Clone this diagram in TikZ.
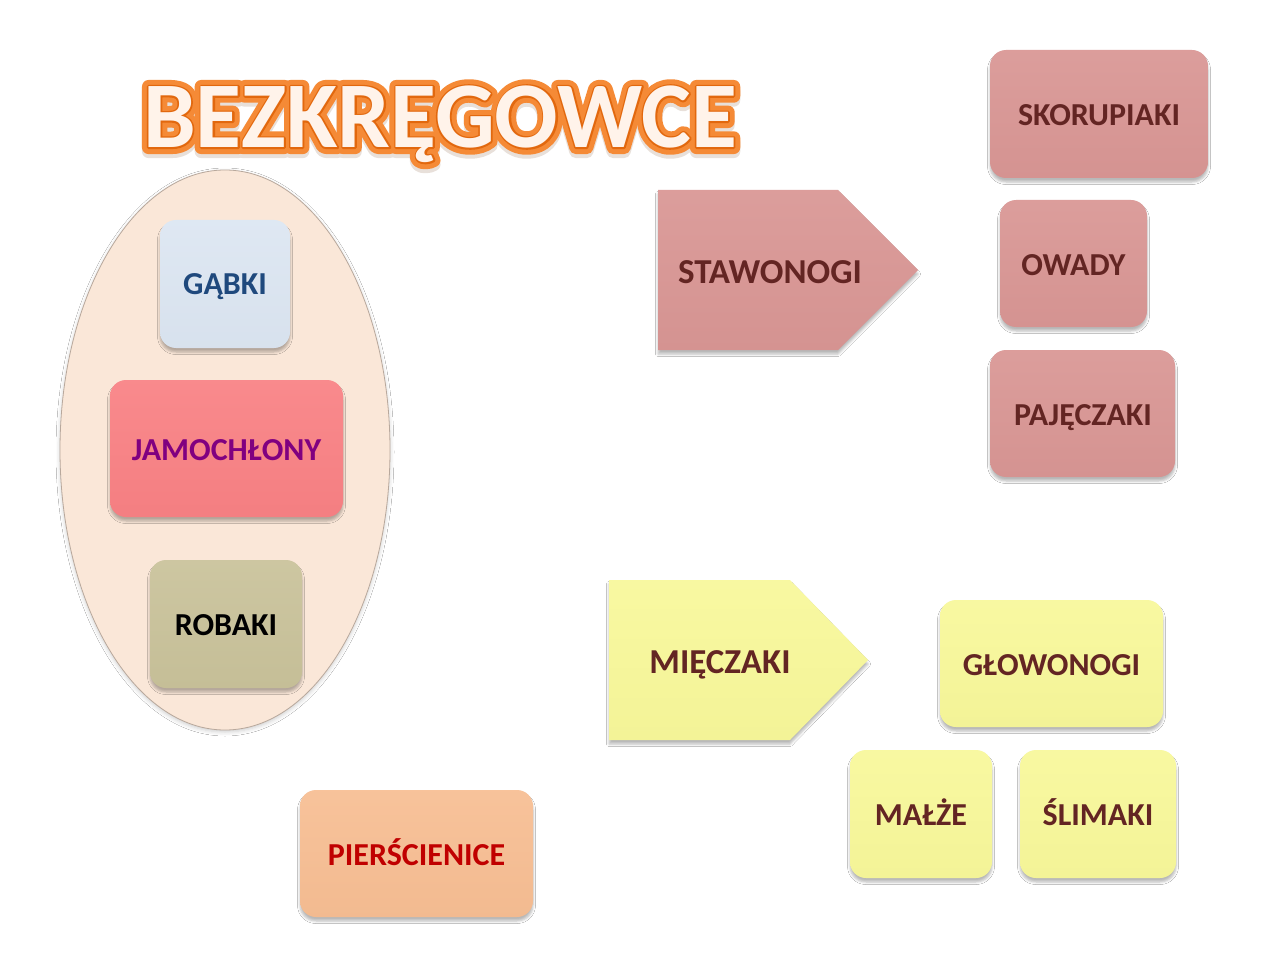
\documentclass[tikz,border=0pt]{standalone}
\usepackage{fontspec}
\setmainfont{Carlito}
\newfontfamily\ttlthick{Carlito Bold}[FakeBold=14]
\newfontfamily\ttlthin{Carlito Bold}[FakeBold=3.5]
\usetikzlibrary{shadows.blur,calc,shapes.geometric}
\definecolor{blueF}{HTML}{DCE6F2}
\definecolor{blueT}{HTML}{1F497D}
\definecolor{redF}{HTML}{F98184}
\definecolor{purpleT}{HTML}{800080}
\definecolor{khakiF}{HTML}{C9C29A}
\definecolor{peachF}{HTML}{F7BE93}
\definecolor{redT}{HTML}{C00000}
\definecolor{pinkF}{HTML}{D99694}
\definecolor{yellowF}{HTML}{F8F89A}
\definecolor{maroonT}{HTML}{632523}
\definecolor{ovalF}{HTML}{FAE7D8}
\definecolor{ovalD}{HTML}{B8A89C}
\definecolor{orD}{HTML}{F58A36}
\definecolor{orE}{HTML}{E2680E}
\definecolor{shadowC}{HTML}{E8E0DA}
\definecolor{cream}{HTML}{FFF3EA}
\tikzset{
  shd/.style={blur shadow={shadow xshift=0pt, shadow yshift=-4pt, shadow blur radius=2.5pt, shadow opacity=28}},
  tile/.style n args={3}{rounded corners=16pt, minimum width=#1, minimum height=#2,
     top color=#3!93!white, middle color=#3, bottom color=#3!98!black, shd, draw=none},
  lbl/.style={font=\fontsize{32}{36}\selectfont\bfseries, text height=20.5pt, text depth=0pt, inner sep=0pt},
  biglbl/.style={font=\fontsize{35}{38}\selectfont\bfseries, text height=22.5pt, text depth=0pt, inner sep=0pt},
  ttlfont/.style={font=\fontsize{94}{100}\selectfont, text height=61pt, text depth=0pt, inner sep=0pt, line join=round},
  arrowshape/.style={top color=#1!93!white, middle color=#1, bottom color=#1!98!black, shd, draw=none}
}
\begin{document}
\begin{tikzpicture}[x=1pt,y=-1pt]
\useasboundingbox[fill=white] (0,0) rectangle (1280,960);

% title
\def\ttl{BEZKRĘGOWCE}
\node[ttlfont] (title) at (440,117)
  {\special{pdf:literal direct 1 j}\rlap{\raisebox{-4pt}{\color{shadowC}\ttlthick\ttl}}\rlap{\color{orD}\ttlthick\ttl}\rlap{\color{orE}\ttlthin\ttl}{\color{cream}\bfseries\ttl}};

% oval group
\node[ellipse, minimum width=330pt, minimum height=560pt, fill=ovalF, draw=ovalD, line width=0.8pt,
      blur shadow={shadow xshift=0pt, shadow yshift=-2pt, shadow blur radius=4pt, shadow opacity=20}] (oval) at (225,450) {};

\node[tile={130pt}{128pt}{blueF}] (gabki) at (225,284) {};
\node[lbl, text=blueT] (gabkiT) at (gabki.center) {GĄBKI};
\node[tile={233pt}{137pt}{redF}] (jamo) at (226.5,448.5) {};
\node[lbl, text=purpleT] (jamoT) at (226.5,450) {JAMOCHŁONY};
\node[tile={152pt}{128pt}{khakiF}] (robaki) at (226,624) {};
\node[lbl, text=black] (robakiT) at (226,625) {ROBAKI};

\node[tile={233pt}{127pt}{peachF}] (pier) at (416.5,853.5) {};
\node[lbl, text=redT] (pierT) at (416.5,855) {PIERŚCIENICE};

% stawonogi
\path[arrowshape=pinkF] (658,190) coordinate (s1) -- (838,190) -- (918,270) coordinate (stip) -- (838,350) -- (658,350) -- cycle;
\node[biglbl, text=maroonT] (staw) at (770,272) {STAWONOGI};
\node[tile={218pt}{128pt}{pinkF}] (skor) at (1099,114) {};
\node[lbl, text=maroonT] (skorT) at (1099,115) {SKORUPIAKI};
\node[tile={147pt}{127pt}{pinkF}] (owady) at (1073.5,263.5) {};
\node[lbl, text=maroonT] (owadyT) at (1073.5,265) {OWADY};
\node[tile={185pt}{127pt}{pinkF}] (paj) at (1082.5,413.5) {};
\node[lbl, text=maroonT] (pajT) at (1083,415) {PAJĘCZAKI};

% mieczaki
\path[arrowshape=yellowF] (609,580) coordinate (m1) -- (790,580) -- (868,660) coordinate (mtip) -- (790,740) -- (609,740) -- cycle;
\node[biglbl, text=maroonT] (miec) at (720,662) {MIĘCZAKI};
\node[tile={223pt}{127pt}{yellowF}] (glow) at (1051.5,663.5) {};
\node[lbl, text=maroonT] (glowT) at (1051.5,665) {GŁOWONOGI};
\node[tile={142pt}{128pt}{yellowF}] (malze) at (921,814) {};
\node[lbl, text=maroonT] (malzeT) at (921,815) {MAŁŻE};
\node[tile={156pt}{128pt}{yellowF}] (slim) at (1098,814) {};
\node[lbl, text=maroonT] (slimT) at (1098,815) {ŚLIMAKI};
\end{tikzpicture}
\end{document}
